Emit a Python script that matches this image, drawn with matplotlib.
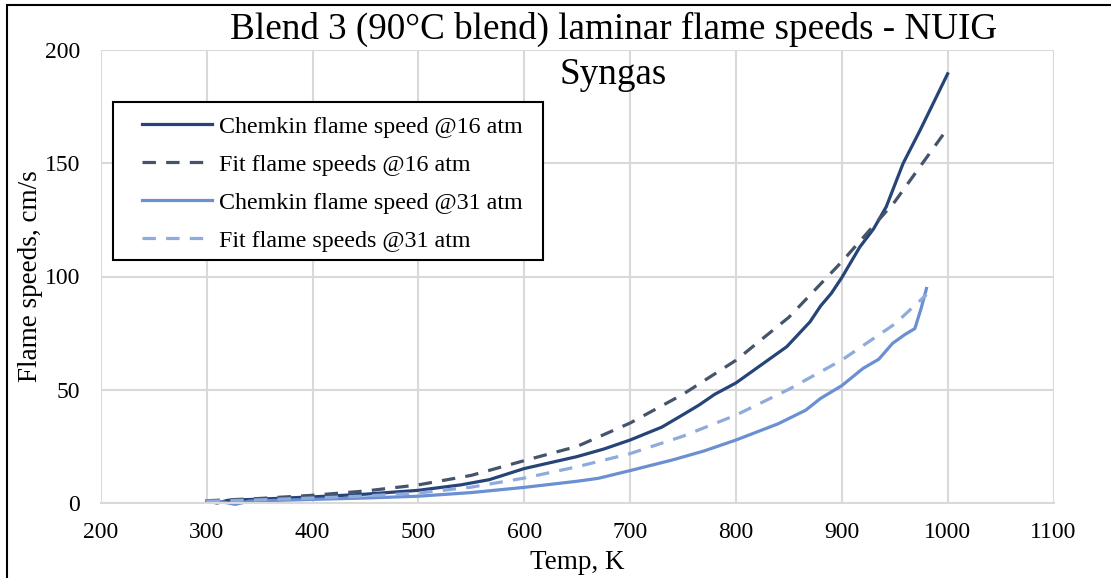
import numpy as np
import matplotlib.pyplot as plt
import matplotlib.patches as patches

plt.rcParams['font.family'] = ['Liberation Serif', 'DejaVu Serif']

# Chemkin flame speed @16 atm
t_chem16 = [300, 310, 320, 350, 400, 450, 500, 540, 567, 600, 650, 675, 700, 730, 750,
            765, 780, 800, 815, 830, 848, 870, 880, 890, 900, 917, 930, 942, 958, 974, 1000]
s_chem16 = [0.8, 0.0, 1.2, 1.7, 2.7, 3.9, 5.6, 8.0, 10.3, 15.2, 20.5, 23.8, 27.8, 33.5, 39.0,
            43.2, 48.0, 53.0, 58.0, 63.0, 69.0, 80.0, 87.0, 92.5, 99.5, 113.0, 121.0, 130.8, 150.0, 164.6, 189.5]

# Fit flame speeds @16 atm
t_fit16 = [300, 350, 400, 450, 500, 550, 600, 650, 700, 750, 800, 850, 900, 950, 1000]
s_fit16 = [1.0, 2.0, 3.4, 5.3, 8.0, 12.2, 18.7, 25.0, 35.3, 48.0, 63.0, 82.0, 106.5, 133.0, 165.4]

# Chemkin flame speed @31 atm
t_chem31 = [300, 315, 327, 340, 400, 450, 500, 550, 600, 650, 670, 700, 740, 770, 800, 840,
            866, 880, 900, 920, 935, 948, 960, 969, 975, 980]
s_chem31 = [0.8, 0.5, -0.6, 0.8, 1.6, 2.2, 3.0, 4.6, 6.9, 9.6, 10.9, 14.3, 19.0, 23.0, 27.8, 35.0,
            41.0, 46.2, 51.8, 59.4, 63.5, 70.5, 74.5, 77.0, 86.0, 94.7]

# Fit flame speeds @31 atm
t_fit31 = [300, 350, 400, 450, 500, 550, 600, 650, 700, 750, 800, 850, 900, 950, 980]
s_fit31 = [0.8, 1.4, 2.2, 3.1, 4.4, 7.0, 11.0, 16.0, 21.8, 29.5, 38.8, 50.2, 63.1, 79.0, 92.0]

W, H = 1111, 578
fig = plt.figure(figsize=(W / 100, H / 100), dpi=100)
ax = fig.add_axes([100.8 / W, 1 - 503 / H, (1053.5 - 100.8) / W, (503 - 50) / H])

ax.plot(t_chem16, s_chem16, color='#264478', lw=2.3, label='Chemkin flame speed @16 atm', clip_on=False)
ax.plot(t_fit16, s_fit16, color='#44546A', lw=2.3, ls=(0, (4.2, 3.2)), label='Fit flame speeds @16 atm')
ax.plot(t_chem31, s_chem31, color='#6A8FD2', lw=2.3, label='Chemkin flame speed @31 atm', clip_on=False)
ax.plot(t_fit31, s_fit31, color='#8FAADC', lw=2.3, ls=(0, (4.2, 3.2)), label='Fit flame speeds @31 atm')

ax.set_xlim(200, 1100)
ax.set_ylim(0, 200)
ax.set_xticks(np.arange(200, 1101, 100))
ax.set_yticks(np.arange(0, 201, 50))
ax.grid(True, color='#D9D9D9', lw=1.5)
ax.set_axisbelow(True)
for s in ['top', 'right', 'left']:
    ax.spines[s].set_visible(False)
ax.spines['bottom'].set_color('#D9D9D9')
ax.spines['bottom'].set_linewidth(1.5)
ax.tick_params(axis='x', length=0, labelsize=17, pad=14)
ax.tick_params(axis='y', length=0, labelsize=17, pad=15)

ax.set_xlabel('Temp, K', fontsize=19.5, labelpad=5)
ax.set_ylabel('Flame speeds, cm/s', fontsize=19.5, labelpad=1)

fig.text(613.5 / W, 1 - 12 / H, 'Blend 3 (90°C blend) laminar flame speeds - NUIG\nSyngas',
         ha='center', va='top', fontsize=26.7, linespacing=1.4)

# legend box
box = patches.Rectangle((113 / W, 1 - 260 / H), 430 / W, 158 / H,
                        transform=fig.transFigure, facecolor='white',
                        edgecolor='black', lw=1.5, zorder=4, clip_on=False)
ax.add_patch(box)

leg = ax.legend(loc='upper left', bbox_to_anchor=(142 / W, 1 - 116 / H),
                bbox_transform=fig.transFigure, fontsize=17.3, frameon=False,
                handlelength=2.9, labelspacing=0.67, borderpad=0, handletextpad=0.3,
                borderaxespad=0)
leg.set_zorder(5)

fig.patches.append(patches.Rectangle((7 / W, -0.1), 1.2, 0.1 + 1 - 5 / H,
                                     transform=fig.transFigure, fill=False,
                                     edgecolor='black', lw=1.5))

fig.savefig('out.png', dpi=100)
